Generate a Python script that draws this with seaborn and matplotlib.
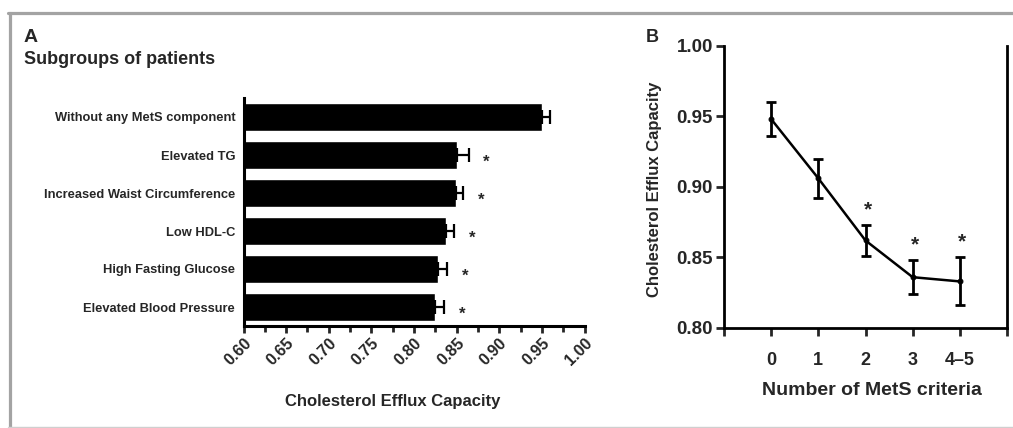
import numpy as np
import matplotlib
matplotlib.use("Agg")
import matplotlib.pyplot as plt
import seaborn as sns
from matplotlib.lines import Line2D
from matplotlib.ticker import MultipleLocator, FixedLocator

# ---------------- data ----------------
subgroups = ["Without any MetS component", "Elevated TG",
             "Increased Waist Circumference", "Low HDL-C",
             "High Fasting Glucose", "Elevated Blood Pressure"]
subgroup_efflux = [0.950, 0.850, 0.849, 0.837, 0.828, 0.825]
subgroup_sem = [0.010, 0.014, 0.009, 0.010, 0.011, 0.010]
subgroup_significant = [False, True, True, True, True, True]
a_ticks = [0.60, 0.65, 0.70, 0.75, 0.80, 0.85, 0.90, 0.95, 1.00]

criteria_labels = ["0", "1", "2", "3", "4–5"]
criteria_efflux = [0.948, 0.906, 0.862, 0.836, 0.833]
criteria_sem = [0.012, 0.014, 0.011, 0.012, 0.017]
criteria_significant = [False, False, True, True, True]
b_yticks = [0.80, 0.85, 0.90, 0.95, 1.00]

# ---------------- style ----------------
sns.set_style("ticks")
plt.rcParams["font.family"] = ["Liberation Sans", "DejaVu Sans"]
plt.rcParams["font.weight"] = "bold"
plt.rcParams["axes.labelweight"] = "bold"

W, H = 1013, 428
fig = plt.figure(figsize=(W / 100, H / 100), dpi=100)
fig.patch.set_facecolor("white")

def fx(px):
    return px / W

def fy(py):
    return 1 - py / H

# ---------------- panel A ----------------
axA = fig.add_axes([fx(243.5), fy(326), fx(584.5) - fx(243.5), fy(98) - fy(326)])
n = len(subgroups)
sns.barplot(x=subgroup_efflux, y=subgroups, orient="h", color="black",
            saturation=1, width=0.72, ax=axA)
ypos = np.arange(n)
axA.errorbar(subgroup_efflux, ypos,
             xerr=[np.zeros(n), subgroup_sem], fmt="none", ecolor="black",
             elinewidth=1.6, capsize=5, capthick=1.6, zorder=3)
for i in range(n):
    if subgroup_significant[i]:
        axA.text(subgroup_efflux[i] + subgroup_sem[i] + 0.021, i + 0.2, "*",
                 ha="center", va="center", fontsize=12, fontweight="bold")
axA.set_xlim(0.60, 1.00)
axA.set_ylim(n - 0.5, -0.5)
axA.set_xticks(a_ticks)
axA.set_xticklabels([f"{t:.2f}" for t in a_ticks], rotation=45,
                    ha="right", va="top", rotation_mode="anchor",
                    fontsize=11.5, fontweight="bold")
axA.xaxis.set_minor_locator(MultipleLocator(0.025))
axA.tick_params(axis="x", which="major", length=5, width=2, pad=2)
axA.tick_params(axis="x", which="minor", length=4, width=2)
axA.tick_params(axis="y", length=0, pad=6, labelsize=9.3)
for lbl in axA.get_yticklabels():
    lbl.set_fontweight("bold")
axA.set_ylabel("")
axA.set_xlabel("Cholesterol Efflux Capacity", fontsize=12, fontweight="bold")
axA.xaxis.set_label_coords(0.437, -0.30)
for s in ["top", "right"]:
    axA.spines[s].set_visible(False)
for s in ["left", "bottom"]:
    axA.spines[s].set_linewidth(2.2)
    axA.spines[s].set_color("black")

fig.text(fx(24), fy(37), "A", fontsize=14, fontweight="bold", va="center", ha="left")
fig.text(fx(24), fy(59), "Subgroups of patients", fontsize=13,
         fontweight="bold", va="center", ha="left")

# ---------------- panel B ----------------
axB = fig.add_axes([fx(724), fy(328), fx(1007) - fx(724), fy(45.7) - fy(328)])
xpos = np.arange(len(criteria_labels))
sns.lineplot(x=xpos, y=criteria_efflux, color="black", linewidth=1.8,
             marker="o", markersize=3.5, markeredgecolor="black",
             errorbar=None, ax=axB)
axB.errorbar(xpos, criteria_efflux, yerr=criteria_sem, fmt="none",
             ecolor="black", elinewidth=2, capsize=3.5, capthick=2)
for i in range(len(xpos)):
    if criteria_significant[i]:
        axB.text(xpos[i] + 0.05, criteria_efflux[i] + criteria_sem[i] + 0.011,
                 "*", ha="center", va="center", fontsize=15, fontweight="bold")
axB.set_xlim(-1, 5)
axB.set_ylim(0.80, 1.00)
axB.set_xticks(list(xpos))
axB.set_xticklabels(criteria_labels, fontsize=13, fontweight="bold")
axB.xaxis.set_minor_locator(FixedLocator([-1, 5]))
axB.set_yticks(b_yticks)
axB.set_yticklabels([f"{t:.2f}" for t in b_yticks], fontsize=13.5,
                    fontweight="bold")
axB.tick_params(axis="x", which="both", length=6, width=2, pad=11)
axB.tick_params(axis="y", length=6, width=2, pad=2)
axB.set_xlabel("Number of MetS criteria", fontsize=14, fontweight="bold")
axB.xaxis.set_label_coords(0.522, -0.19)
axB.set_ylabel("Cholesterol Efflux Capacity", fontsize=12, fontweight="bold")
axB.yaxis.set_label_coords(-0.22, 0.49)
axB.spines["top"].set_visible(False)
for s in ["left", "bottom", "right"]:
    axB.spines[s].set_linewidth(2)
    axB.spines[s].set_color("black")

fig.text(fx(646), fy(37.5), "B", fontsize=13, fontweight="bold", va="center", ha="left")

# ---------------- frame ----------------
fig.add_artist(Line2D([fx(8), 1], [fy(12.5), fy(12.5)], color="#a3a3a3", lw=2.3))
fig.add_artist(Line2D([fx(9.5), fx(9.5)], [0, fy(12.5)], color="#a3a3a3", lw=2.3))
fig.add_artist(Line2D([fx(8), 1], [fy(427), fy(427)], color="#cfcfcf", lw=1))

fig.savefig("out.png", dpi=100)
